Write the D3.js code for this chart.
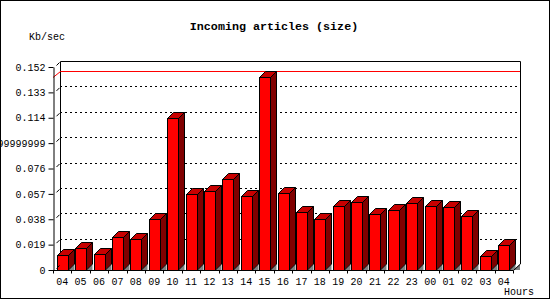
<!DOCTYPE html>
<html>
<head>
<meta charset="utf-8">
<script src="https://cdn.jsdelivr.net/npm/d3@7"></script>
<style>
  body { margin: 0; background: #fff; }
  text { font-family: "Liberation Mono", "DejaVu Sans Mono", monospace; }
</style>
</head>
<body>
<div id="chart"></div>
<script>
// hours along the bottom (last 24h, starting and ending at 04)
var hours = ["04","05","06","07","08","09","10","11","12","13","14","15","16",
             "17","18","19","20","21","22","23","00","01","02","03","04"]

// incoming article size, Kb/sec
var kbSec = [0.0110, 0.0163, 0.0118, 0.0245, 0.0230, 0.0380, 0.1136, 0.0567, 0.0592,
             0.0679, 0.0557, 0.1443, 0.0574, 0.0432, 0.0380, 0.0477, 0.0507, 0.0417,
             0.0447, 0.0500, 0.0477, 0.0470, 0.0402, 0.0103, 0.0185]

var yTicks = [0, 0.019, 0.038, 0.057, 0.076, 0.095, 0.114, 0.133, 0.152]
var yTickLabels = ["0", "0.019", "0.038", "0.057", "0.076", "0.09499999999999999",
                   "0.114", "0.133", "0.152"]

var width = 550, height = 300
var plotLeft = 53, plotRight = 513, plotBottom = 270, plotTop = 67
var dx = 7, dy = 6      // depth of the back wall
var bdx = 6, bdy = 6    // depth of the bars
var barW = 11

var svg = d3.select("#chart").append("svg")
    .attr("width", width)
    .attr("height", height)

svg.append("rect")
    .attr("width", width).attr("height", height)
    .attr("fill", "#fff")

var x = d3.scaleBand().domain(d3.range(hours.length)).range([plotLeft, plotRight])
var y = d3.scaleLinear().domain([0, 0.152]).range([plotBottom, plotTop])

// back wall: dotted grid
svg.selectAll(".grid")
    .data(yTicks.slice(1, -1))
    .enter().append("line")
    .attr("class", "grid")
    .attr("x1", plotLeft + dx).attr("x2", plotRight + dx)
    .attr("y1", d => Math.round(y(d)) - dy + 0.5).attr("y2", d => Math.round(y(d)) - dy + 0.5)
    .attr("stroke", "#000")
    .attr("stroke-dasharray", "2,3")

// back wall frame
svg.append("path")
    .attr("d", "M" + (plotLeft + dx + 0.5) + "," + (plotBottom - dy) +
               "V" + (Math.round(y(0.152)) - dy + 0.5) + "H" + (plotRight + dx + 0.5) +
               "V" + (plotBottom - dy))
    .attr("fill", "none")
    .attr("stroke", "#000")

// max line
var maxV = d3.max(kbSec)
var yMax = Math.round(y(maxV))
svg.append("path")
    .attr("d", "M" + plotLeft + "," + (yMax + 0.5) + "L" + (plotLeft + dx + 0.5) + "," + (yMax - dy + 0.5) +
               "H" + (plotRight + dx))
    .attr("fill", "none")
    .attr("stroke", "#ff0000")

// bars
var bars = svg.selectAll(".bar")
    .data(kbSec)
    .enter().append("g")
    .attr("class", "bar")

function x0(i) { return Math.round(x(i) + x.bandwidth() / 2 - barW / 2) + 0.5 }

bars.append("path")
    .attr("d", (d, i) => {
      var xr = x0(i) + barW
      return "M" + xr + "," + plotBottom + "L" + (xr + bdx) + "," + (plotBottom - bdy) + "V" + plotBottom + "Z"
    })
    .attr("fill", "#808080")

bars.append("path")
    .attr("d", (d, i) => {
      var xr = x0(i) + barW, yt = Math.round(y(d)) + 0.5
      return "M" + xr + "," + yt + "L" + (xr + bdx) + "," + (yt - bdy) +
             "V" + (plotBottom - bdy) + "L" + xr + "," + plotBottom + "Z"
    })
    .attr("fill", "#800000")
    .attr("stroke", "#000")

bars.append("path")
    .attr("d", (d, i) => {
      var xl = x0(i), yt = Math.round(y(d)) + 0.5
      return "M" + xl + "," + yt + "L" + (xl + bdx) + "," + (yt - bdy) +
             "H" + (xl + barW + bdx) + "L" + (xl + barW) + "," + yt + "Z"
    })
    .attr("fill", "#c80000")
    .attr("stroke", "#000")

bars.append("rect")
    .attr("x", (d, i) => x0(i))
    .attr("y", d => Math.round(y(d)) + 0.5)
    .attr("width", barW)
    .attr("height", d => plotBottom - Math.round(y(d)))
    .attr("fill", "#ff0000")
    .attr("stroke", "#000")

// floor edge on the right
svg.append("path")
    .attr("d", "M" + plotRight + "," + plotBottom + "L" + (plotRight + dx) + "," + (plotBottom - dy) + "V" + plotBottom + "Z")
    .attr("fill", "#808080")
svg.append("line")
    .attr("x1", plotRight + 0.5).attr("y1", plotBottom + 0.5)
    .attr("x2", plotRight + dx + 0.5).attr("y2", plotBottom - dy)
    .attr("stroke", "#000")

// y axis
var yAxis = d3.axisLeft(y)
    .tickValues(yTicks)
    .tickFormat((d, i) => yTickLabels[i])
    .tickSizeInner(5)
    .tickSizeOuter(0)
    .tickPadding(3)

var yg = svg.append("g")
    .attr("class", "axis y-axis")
    .attr("transform", "translate(" + (plotLeft + 0.5) + ",0)")
    .call(yAxis)

yg.selectAll("text")
    .attr("font-family", "Liberation Mono")
    .attr("font-size", 10)
    .attr("fill", "#000")

// little diagonal marks from the axis toward the back wall
yg.selectAll(".tick").append("line")
    .attr("x1", 3).attr("y1", -2)
    .attr("x2", 6).attr("y2", -5)
    .attr("stroke", "#000")

// x axis
var xAxis = d3.axisBottom(x)
    .tickFormat(i => hours[i])
    .tickSize(0)
    .tickPadding(7)

var xg = svg.append("g")
    .attr("class", "axis x-axis")
    .attr("transform", "translate(0," + (plotBottom + 0.5) + ")")
    .call(xAxis)

xg.select(".domain").attr("d", "M" + plotLeft + ",0H" + (plotRight + 0.5))
xg.selectAll("text")
    .attr("font-family", "Liberation Mono")
    .attr("font-size", 10)
    .attr("fill", "#000")

xg.selectAll(".bound")
    .data(d3.range(hours.length + 1))
    .enter().append("line")
    .attr("class", "bound")
    .attr("x1", i => Math.round(i < hours.length ? x(i) : plotRight) + 0.5)
    .attr("x2", i => Math.round(i < hours.length ? x(i) : plotRight) + 0.5)
    .attr("y1", 0).attr("y2", 3)
    .attr("stroke", "#000")

// texts
svg.append("text")
    .attr("x", 274).attr("y", 30)
    .attr("text-anchor", "middle")
    .attr("font-size", 11.7)
    .attr("font-weight", "bold")
    .text("Incoming articles (size)")

svg.append("text")
    .attr("x", 29).attr("y", 40)
    .attr("font-size", 10)
    .text("Kb/sec")

svg.append("text")
    .attr("x", 504).attr("y", 295)
    .attr("font-size", 10)
    .text("Hours")

// outer border
svg.append("rect")
    .attr("x", 0.5).attr("y", 0.5)
    .attr("width", width - 1).attr("height", height - 2)
    .attr("fill", "none")
    .attr("stroke", "#000")
</script>
</body>
</html>
